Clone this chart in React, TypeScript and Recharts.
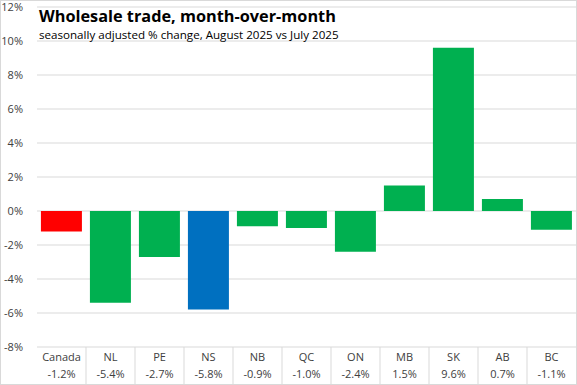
import { BarChart, Bar, XAxis, YAxis, CartesianGrid, Cell } from 'recharts';

const regions = ['Canada', 'NL', 'PE', 'NS', 'NB', 'QC', 'ON', 'MB', 'SK', 'AB', 'BC'];
const changes = [-1.2, -5.4, -2.7, -5.8, -0.9, -1.0, -2.4, 1.5, 9.6, 0.7, -1.1];
const yTicks = [-8, -6, -4, -2, 0, 2, 4, 6, 8, 10, 12];

const barColor = (region: string) => {
  if (region === 'Canada') return '#ff0000';
  if (region === 'NS') return '#0070c0';
  return '#00b050';
};

const data = regions.map((region, i) => ({ region, change: changes[i] }));

const W = 577;
const H = 385;
const plotLeft = 37;
const plotRight = 1;
const bandWidth = (W - plotLeft - plotRight) / regions.length;
const font = '"Open Sans", "Noto Sans", sans-serif';

function TableTick(props: any) {
  const { x, y, payload, index } = props;
  const value = changes[index];
  const label = `${value.toFixed(1)}%`;
  const isLast = index === regions.length - 1;
  return (
    <g>
      {!isLast && (
        <line x1={x + bandWidth / 2} x2={x + bandWidth / 2} y1={y} y2={y + 38} stroke="#d9d9d9" />
      )}
      <text x={x} y={y + 14} textAnchor="middle" fontSize={11} fill="#404040" fontFamily={font}>
        {payload.value}
      </text>
      <text x={x} y={y + 31} textAnchor="middle" fontSize={11} fill="#404040" fontFamily={font}>
        {label}
      </text>
    </g>
  );
}

export default function App() {
  return (
    <div
      style={{
        position: 'absolute',
        left: 0,
        top: 0,
        width: W,
        height: H,
        boxSizing: 'border-box',
        border: '1px solid #d9d9d9',
        background: '#fff',
      }}
    >
      <div style={{ position: 'absolute', left: -1, top: -1 }}>
        <BarChart
          width={W}
          height={H}
          data={data}
          margin={{ top: 7, right: plotRight, bottom: 0, left: 0 }}
          barCategoryGap="8%"
        >
          <CartesianGrid vertical={false} stroke="#d9d9d9" />
          <XAxis
            dataKey="region"
            axisLine={false}
            tickLine={false}
            tickSize={0}
            tickMargin={0}
            height={38}
            interval={0}
            tick={<TableTick />}
          />
          <YAxis
            width={plotLeft}
            domain={[-8, 12]}
            ticks={yTicks}
            axisLine={false}
            tickLine={false}
            tickMargin={8}
            tickFormatter={(v: number) => `${v}%`}
            tick={{ fontSize: 11, fill: '#404040', fontFamily: font }}
          />
          <Bar dataKey="change" isAnimationActive={false}>
            {data.map((d) => (
              <Cell key={d.region} fill={barColor(d.region)} />
            ))}
          </Bar>
        </BarChart>
      </div>
      <div
        style={{
          position: 'absolute',
          left: 38,
          top: 6,
          fontFamily: font,
          color: '#000',
          lineHeight: 1.15,
        }}
      >
        <div style={{ fontSize: 16.3, fontWeight: 700 }}>Wholesale trade, month-over-month</div>
        <div style={{ fontSize: 11.6, marginTop: 2 }}>seasonally adjusted % change, August 2025 vs July 2025</div>
      </div>
    </div>
  );
}
